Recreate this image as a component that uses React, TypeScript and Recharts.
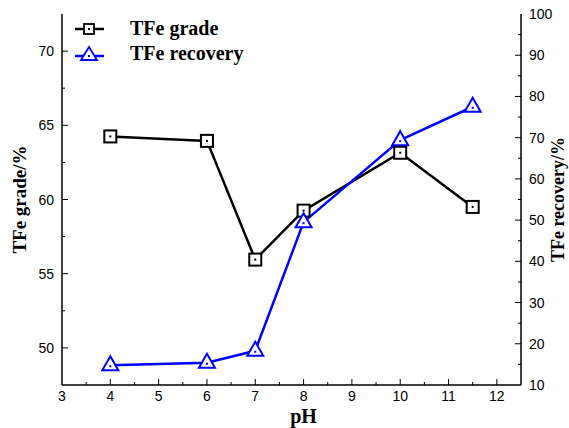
import React from 'react';
import { LineChart, Line, XAxis, YAxis } from 'recharts';

const phValues = [4, 6, 7, 8, 10, 11.5];
const gradeValues = [64.25, 63.95, 55.95, 59.25, 63.15, 59.5];
const recoveryValues = [14.8, 15.4, 18.3, 49.5, 69.4, 77.5];

const xTicks = [3, 3.5, 4, 4.5, 5, 5.5, 6, 6.5, 7, 7.5, 8, 8.5, 9, 9.5, 10, 10.5, 11, 11.5, 12, 12.5];
const gradeTicks = [50, 52.5, 55, 57.5, 60, 62.5, 65, 67.5, 70];
const recoveryTicks = [10, 15, 20, 25, 30, 35, 40, 45, 50, 55, 60, 65, 70, 75, 80, 85, 90, 95, 100];

const data = phValues.map((ph, i) => ({
  ph,
  grade: gradeValues[i],
  recovery: recoveryValues[i],
}));

const TICK_FONT = '"Liberation Sans", Arial, sans-serif';
const TITLE_FONT = '"Liberation Serif", "Times New Roman", serif';
const GAP = 8;

function isMajor(v: number, step: number) {
  return Math.abs(v / step - Math.round(v / step)) < 1e-6;
}

function LeftTick(props: any) {
  const { x, y, payload } = props;
  const major = isMajor(payload.value, 5);
  const ax = x + GAP;
  return (
    <g>
      <line x1={ax} x2={ax + (major ? 6 : 3)} y1={y} y2={y} stroke="#000" strokeWidth={1} />
      {major && (
        <text x={x} y={y} textAnchor="end" dominantBaseline="central" fontSize={14} fontFamily={TICK_FONT} fill="#000">
          {payload.value}
        </text>
      )}
    </g>
  );
}

function RightTick(props: any) {
  const { x, y, payload } = props;
  const major = isMajor(payload.value, 10);
  const ax = x - GAP;
  return (
    <g>
      {payload.value !== 10 && payload.value !== 100 && (
        <line x1={ax} x2={ax - (major ? 6 : 3)} y1={y} y2={y} stroke="#000" strokeWidth={1} />
      )}
      {major && (
        <text x={x} y={y} textAnchor="start" dominantBaseline="central" fontSize={14} fontFamily={TICK_FONT} fill="#000">
          {payload.value}
        </text>
      )}
    </g>
  );
}

function BottomTick(props: any) {
  const { x, y, payload } = props;
  const major = isMajor(payload.value, 1);
  const ay = y - 6;
  const edge = payload.value === 3 || payload.value === 12.5;
  return (
    <g>
      {!edge && <line x1={x} x2={x} y1={ay} y2={ay - (major ? 6 : 3)} stroke="#000" strokeWidth={1} />}
      {major && (
        <text x={x} y={y} dy="0.71em" textAnchor="middle" fontSize={14} fontFamily={TICK_FONT} fill="#000">
          {payload.value}
        </text>
      )}
    </g>
  );
}

function SquareDot(props: any) {
  const { cx, cy, index } = props;
  if (cx == null || cy == null) return <g key={`sq-${index}`} />;
  return (
    <g key={`sq-${index}`}>
      <rect x={cx - 6} y={cy - 6} width={12} height={12} fill="#fff" stroke="#000" strokeWidth={2} />
      <rect x={cx - 1} y={cy - 1} width={2} height={2} fill="#000" />
    </g>
  );
}

function TriangleDot(props: any) {
  const { cx, cy, index } = props;
  if (cx == null || cy == null) return <g key={`tr-${index}`} />;
  const pts = `${cx},${cy - 9} ${cx + 8},${cy + 5} ${cx - 8},${cy + 5}`;
  return (
    <g key={`tr-${index}`}>
      <polygon points={pts} fill="#fff" stroke="#0000ff" strokeWidth={2} strokeLinejoin="miter" />
      <rect x={cx - 1} y={cy} width={2} height={2} fill="#0000ff" />
    </g>
  );
}

function LegendBox() {
  const rowStyle: React.CSSProperties = { display: 'flex', alignItems: 'center', height: 25 };
  const textStyle: React.CSSProperties = {
    fontFamily: TITLE_FONT,
    fontWeight: 'bold',
    fontSize: 20,
    marginLeft: 26,
    color: '#000',
  };
  return (
    <div style={{ position: 'absolute', left: 75, top: 16 }}>
      <div style={rowStyle}>
        <svg width={29} height={20}>
          <line x1={0} x2={29} y1={10} y2={10} stroke="#000" strokeWidth={2.5} />
          <rect x={9} y={5} width={10} height={10} fill="#fff" stroke="#000" strokeWidth={1.8} />
          <rect x={13} y={9} width={2} height={2} fill="#000" />
        </svg>
        <span style={textStyle}>TFe grade</span>
      </div>
      <div style={rowStyle}>
        <svg width={29} height={20}>
          <line x1={0} x2={29} y1={12} y2={12} stroke="#0000ff" strokeWidth={2.5} />
          <polygon points="14,3 22,16 6,16" fill="#fff" stroke="#0000ff" strokeWidth={1.8} />
          <rect x={13} y={11} width={2} height={2} fill="#0000ff" />
        </svg>
        <span style={textStyle}>TFe recovery</span>
      </div>
    </div>
  );
}

export default function App() {
  return (
    <div style={{ position: 'absolute', left: 0, top: 0, width: 569, height: 428, background: '#fff' }}>
      <LineChart width={569} height={428} data={data} margin={{ top: 14, right: 0, bottom: 0, left: 0 }}>
        <XAxis
          dataKey="ph"
          type="number"
          domain={[3, 12.5]}
          ticks={xTicks}
          interval={0}
          tickSize={0}
          tickMargin={6}
          tick={<BottomTick />}
          axisLine={{ stroke: '#000', strokeWidth: 1.5 }}
          height={43}
          label={{
            value: 'pH',
            position: 'insideBottom',
            offset: 5,
            dx: 12,
            fill: '#000',
            fontSize: 20,
            fontWeight: 'bold',
            fontFamily: TITLE_FONT,
          }}
        />
        <XAxis
          xAxisId="top"
          dataKey="ph"
          type="number"
          domain={[3, 12.5]}
          orientation="top"
          height={0}
          tick={false}
          tickLine={false}
          axisLine={{ stroke: '#000', strokeWidth: 1.5 }}
        />
        <YAxis
          yAxisId="grade"
          domain={[47.5, 72.5]}
          ticks={gradeTicks}
          interval={0}
          width={62}
          tickSize={0}
          tickMargin={GAP}
          tick={<LeftTick />}
          axisLine={{ stroke: '#000', strokeWidth: 1.5 }}
          label={{
            value: 'TFe grade/%',
            angle: -90,
            position: 'insideLeft',
            offset: 19,
            style: { textAnchor: 'middle' },
            fill: '#000',
            fontSize: 19,
            fontWeight: 'bold',
            fontFamily: TITLE_FONT,
          }}
        />
        <YAxis
          yAxisId="recovery"
          orientation="right"
          domain={[10, 100]}
          ticks={recoveryTicks}
          interval={0}
          width={48}
          tickSize={0}
          tickMargin={GAP}
          tick={<RightTick />}
          axisLine={{ stroke: '#000', strokeWidth: 1.5 }}
          label={{
            value: 'TFe recovery/%',
            angle: -90,
            position: 'insideRight',
            offset: 11,
            style: { textAnchor: 'middle' },
            fill: '#000',
            fontSize: 18,
            fontWeight: 'bold',
            fontFamily: TITLE_FONT,
          }}
        />
        <Line
          yAxisId="grade"
          dataKey="grade"
          type="linear"
          stroke="#000"
          strokeWidth={2.5}
          dot={(p: any) => <SquareDot {...p} key={`sq-${p.index}`} />}
          activeDot={false}
          isAnimationActive={false}
        />
        <Line
          yAxisId="recovery"
          dataKey="recovery"
          type="linear"
          stroke="#0000ff"
          strokeWidth={2.5}
          dot={(p: any) => <TriangleDot {...p} key={`tr-${p.index}`} />}
          activeDot={false}
          isAnimationActive={false}
        />
      </LineChart>
      <LegendBox />
    </div>
  );
}
